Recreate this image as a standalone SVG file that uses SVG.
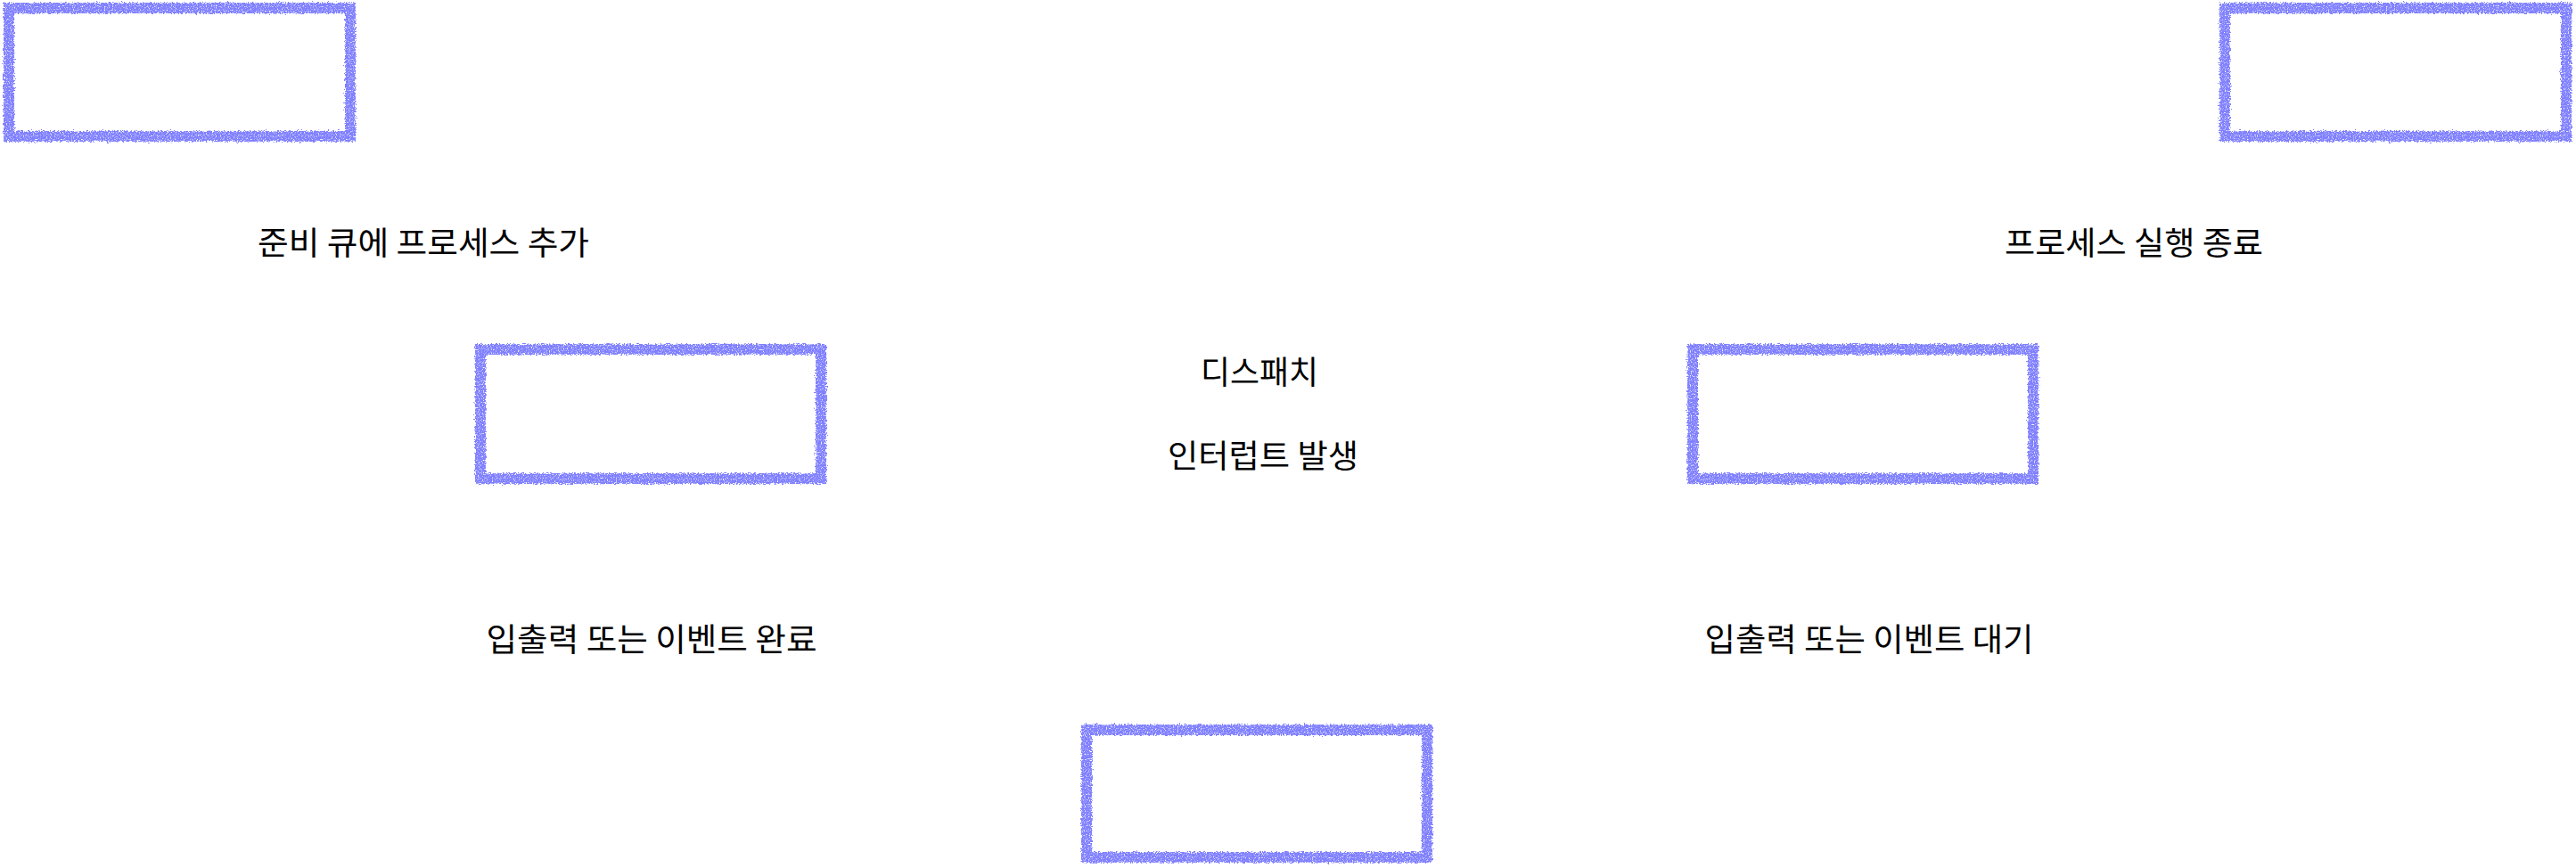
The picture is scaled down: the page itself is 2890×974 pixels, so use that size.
<svg xmlns="http://www.w3.org/2000/svg" width="2890" height="974" viewBox="0 0 2890 974">
<style>
.box{fill:none;stroke:#8080ff;stroke-width:12;filter:url(#rough)}
.lbl{font-family:"Noto Sans CJK KR","Noto Sans",sans-serif;font-size:36px;fill:#000;text-anchor:middle}
</style>
<defs>
<filter id="rough" x="-5%" y="-10%" width="110%" height="120%">
<feTurbulence type="fractalNoise" baseFrequency="0.6" numOctaves="2" seed="3" result="n"/>
<feDisplacementMap in="SourceGraphic" in2="n" scale="6" xChannelSelector="R" yChannelSelector="G" result="d"/>
<feTurbulence type="fractalNoise" baseFrequency="0.8" numOctaves="1" seed="9" result="g"/>
<feColorMatrix in="g" type="matrix" values="0 0 0 0 0  0 0 0 0 0  0 0 0 0 0  4 0 0 0 -0.9" result="ga"/>
<feComposite in="d" in2="ga" operator="in"/>
</filter>
</defs>
<rect width="2890" height="974" fill="#fff"/>
<g id="node-new"><rect class="box" x="10" y="9" width="383" height="144"/></g>
<g id="node-exit"><rect class="box" x="2496" y="9" width="383" height="144"/></g>
<g id="node-ready"><rect class="box" x="539" y="392" width="382" height="145"/></g>
<g id="node-running"><rect class="box" x="1899" y="392" width="382" height="145"/></g>
<g id="node-waiting"><rect class="box" x="1219" y="819" width="382" height="143"/></g>
<g id="connectors">
<text class="lbl" x="475" y="286" textLength="372" lengthAdjust="spacingAndGlyphs">준비 큐에 프로세스 추가</text>
<text class="lbl" x="2394" y="286" textLength="290" lengthAdjust="spacingAndGlyphs">프로세스 실행 종료</text>
<text class="lbl" x="1413" y="431" textLength="132" lengthAdjust="spacingAndGlyphs">디스패치</text>
<text class="lbl" x="1417" y="525" textLength="214" lengthAdjust="spacingAndGlyphs">인터럽트 발생</text>
<text class="lbl" x="731" y="731" textLength="371" lengthAdjust="spacingAndGlyphs">입출력 또는 이벤트 완료</text>
<text class="lbl" x="2097" y="731" textLength="369" lengthAdjust="spacingAndGlyphs">입출력 또는 이벤트 대기</text>
</g>
</svg>
